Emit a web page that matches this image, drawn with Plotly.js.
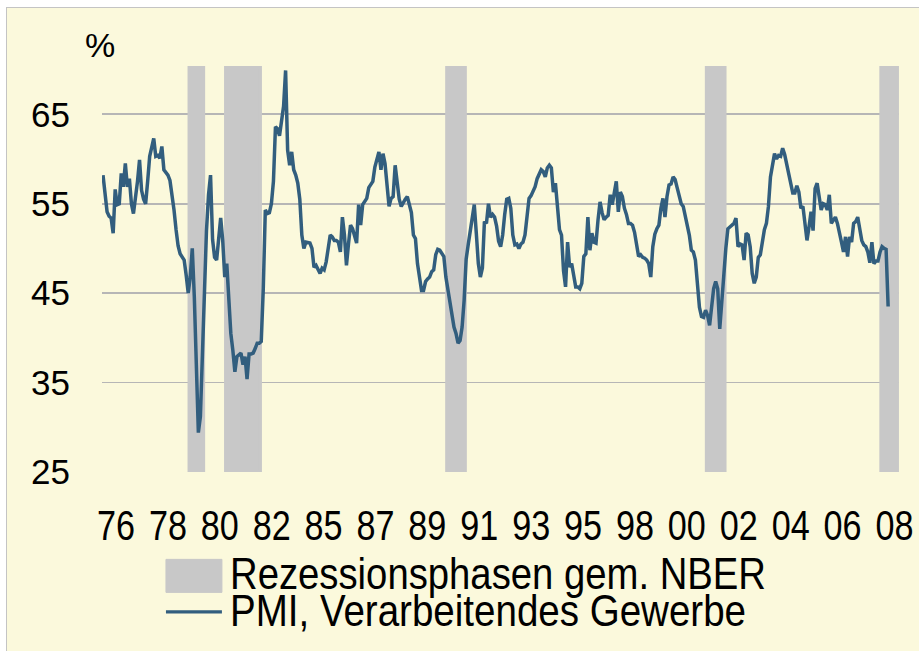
<!DOCTYPE html>
<html>
<head>
<meta charset="utf-8">
<script src="https://cdn.plot.ly/plotly-3.0.1.min.js"></script>
<style>
  html, body { margin:0; padding:0; background:#ffffff; width:919px; height:651px; overflow:hidden; }
  #chart { position:absolute; left:6px; top:7px; width:912px; height:643px;
           border-left:1px solid #C4C4C4; border-top:1px solid #C4C4C4; }
</style>
</head>
<body>
<div id="chart"></div>
<script>
// ---- data ----
const startYear = 1976;
const startMonth = 6; // June 1976
const pmi = [
  58.2, 56.0, 54.1, 53.6, 53.4, 51.7, 56.6,                         // 1976 Jun-Dec
  54.9, 55.0, 58.4, 56.9, 59.5, 56.9, 57.8, 55.0, 53.9, 55.4, 57.5, 59.9, // 1977
  56.5, 55.5, 55.0, 57.5, 60.3, 61.3, 62.3, 60.3, 60.4, 60.1, 61.4, 58.8, // 1978
  58.5, 58.2, 57.6, 56.0, 54.3, 52.1, 50.3, 49.4, 49.1, 48.7, 47.0, 45.0, // 1979
  46.8, 50.0, 44.6, 37.1, 29.4, 31.2, 37.9, 46.5, 52.0, 56.0, 58.2, 51.0, // 1980
  49.0, 48.7, 50.9, 53.4, 50.9, 46.8, 48.3, 43.5, 40.5, 38.6, 36.2, 37.9, // 1981
  38.1, 38.3, 37.0, 37.9, 35.4, 38.2, 38.2, 38.3, 38.8, 39.4, 39.4, 39.6, // 1982
  45.5, 54.3, 53.9, 54.0, 55.0, 57.5, 63.6, 63.4, 62.6, 64.6, 65.9, 69.9, // 1983
  61.0, 59.3, 60.8, 58.8, 58.2, 57.3, 55.5, 51.5, 50.0, 50.7, 50.6, 50.6, // 1984
  50.0, 47.9, 48.1, 47.6, 47.2, 47.8, 47.6, 48.5, 50.0, 51.5, 51.3, 50.9, // 1985
  50.9, 50.7, 49.6, 53.5, 51.5, 48.1, 50.5, 52.6, 52.2, 51.3, 50.6, 54.9, // 1986
  52.6, 54.9, 55.2, 55.6, 56.8, 57.2, 57.5, 59.1, 60.0, 60.8, 58.8, 60.6, // 1987
  59.5, 56.5, 54.7, 55.6, 55.8, 59.3, 57.5, 55.5, 54.7, 55.2, 55.5, 55.8, // 1988
  55.0, 54.0, 51.5, 51.1, 48.3, 46.5, 45.3, 45.3, 46.3, 46.6, 46.8, 47.4, // 1989
  47.6, 49.3, 49.9, 49.8, 49.5, 49.1, 46.8, 45.5, 43.8, 42.5, 41.2, 40.5, // 1990
  39.4, 39.7, 41.2, 44.2, 48.8, 50.4, 52.0, 53.5, 54.9, 51.7, 48.3, 46.8, // 1991
  47.8, 53.0, 52.8, 55.0, 53.5, 53.8, 53.5, 52.5, 50.8, 50.2, 51.5, 53.8, // 1992
  55.5, 55.6, 54.5, 51.5, 50.4, 50.5, 50.0, 50.5, 50.7, 51.5, 53.7, 55.6, // 1993
  55.9, 56.4, 56.9, 57.8, 58.4, 58.8, 58.6, 58.0, 59.0, 59.3, 59.0, 56.3, // 1994
  57.3, 54.3, 52.1, 51.5, 47.5, 45.7, 50.7, 47.9, 48.3, 47.0, 45.7, 45.7, // 1995
  45.5, 46.1, 49.1, 49.4, 53.5, 49.8, 51.7, 50.7, 50.6, 53.2, 55.2, 54.0, // 1996
  53.2, 53.5, 53.7, 56.0, 54.9, 56.2, 57.5, 54.1, 56.3, 55.8, 54.5, 53.8, // 1997
  52.8, 52.8, 52.6, 51.8, 50.5, 49.1, 49.3, 49.0, 48.9, 48.7, 48.3, 46.8, // 1998
  50.2, 51.6, 52.2, 52.6, 54.5, 55.6, 53.5, 55.8, 57.1, 57.2, 58.0, 57.7, // 1999
  56.8, 55.8, 55.0, 54.7, 53.7, 52.4, 51.5, 49.8, 49.6, 48.7, 46.5, 43.4, // 2000
  42.4, 42.3, 43.1, 42.5, 41.4, 43.4, 45.5, 46.3, 45.5, 41.0, 43.5, 47.0, // 2001
  50.0, 52.2, 52.4, 52.6, 52.8, 53.4, 50.2, 50.5, 50.4, 48.7, 51.7, 51.5, // 2002
  50.2, 47.2, 46.1, 46.8, 49.0, 49.3, 50.8, 52.1, 52.8, 54.7, 58.0, 59.5, // 2003
  60.6, 60.0, 60.4, 60.3, 61.2, 60.5, 59.5, 58.4, 57.1, 56.2, 56.2, 57.0, // 2004
  56.3, 54.5, 54.7, 52.8, 50.9, 52.4, 54.1, 52.0, 56.7, 57.3, 55.8, 54.3, // 2005
  55.0, 54.9, 54.3, 56.0, 52.8, 53.2, 53.5, 52.8, 51.5, 50.7, 49.6, 51.3, // 2006
  49.1, 51.3, 50.7, 52.8, 53.0, 53.5, 52.2, 50.9, 50.4, 50.2, 49.6, 48.4, // 2007
  50.7, 48.3, 48.6, 48.6, 49.6, 50.2, 50.0, 49.9, 43.5                    // 2008 Jan-Sep
];
// recession phases (first and last month of each shaded band)
const recStart = ['1980-01', '1981-07', '1990-08', '2001-04', '2008-06'];
const recEnd   = ['1980-07', '1982-11', '1991-04', '2001-12', '2009-01'];
const xTickLabels = ['76','78','80','82','85','87','89','91','93','95','98','00','02','04','06','08'];
const yTickValues = [25, 35, 45, 55, 65];
const seriesName = 'PMI, Verarbeitendes Gewerbe';
const recessionName = 'Rezessionsphasen gem. NBER';

// ---- helpers ----
function monthIndex(s) { const p = s.split('-').map(Number); return (p[0] - 1976) * 12 + (p[1] - 1); }
const t0 = (startYear - 1976) * 12 + (startMonth - 1);
const xs = pmi.map((_, i) => t0 + i);

const yMin = 25, yMax = 70.4, barTop = 70.2;
const recX = recStart.map((s, i) => (monthIndex(s) + monthIndex(recEnd[i])) / 2);
const recW = recStart.map((s, i) => monthIndex(recEnd[i]) - monthIndex(s) + 1);

const font = 'Liberation Sans, Arial, Helvetica, sans-serif';
const grey = '#C8C8C8', lineCol = '#325E7E', bg = '#FBF9DC';

const traces = [
  {
    type: 'bar', x: recX, width: recW, y: recX.map(() => barTop - yMin), base: recX.map(() => yMin),
    marker: { color: grey, line: { color: grey, width: 3.4 } },
    name: recessionName, showlegend: false, hoverinfo: 'skip'
  },
  {
    type: 'scatter', mode: 'lines', x: xs, y: pmi,
    line: { color: lineCol, width: 3.5, shape: 'linear' },
    name: seriesName, showlegend: false, hoverinfo: 'skip'
  }
];

const tickStart = 11.4, tickStep = 25.58;
const tickVals = xTickLabels.map((_, k) => tickStart + k * tickStep);

const W = 912, H = 643;
const mL = 95, mR = 19.5, mT = 58, mB = 179.3;
const pw = W - mL - mR, ph = H - mT - mB;
const px2x = px => (px - 7 - mL) / pw;
const py2y = py => ((H - mB + 8) - py) / ph;

const layout = {
  width: W, height: H,
  margin: { l: mL, r: mR, t: mT, b: mB, pad: 0 },
  paper_bgcolor: bg, plot_bgcolor: 'rgba(0,0,0,0)',
  showlegend: false, bargap: 0,
  xaxis: {
    range: [4.5, 4.5 + pw / 2.03], showgrid: false, zeroline: false, showline: false,
    tickmode: 'array', tickvals: tickVals, ticktext: xTickLabels, ticks: '',
    ticklabelstandoff: 25, ticklabeloverflow: 'allow',
    tickfont: { family: font, size: 42, color: '#000' }, fixedrange: true
  },
  yaxis: {
    range: [yMin, yMax], tickmode: 'array', tickvals: yTickValues, ticktext: yTickValues.map(String),
    showgrid: true, gridcolor: '#B6B6B6', gridwidth: 1.6, zeroline: false, showline: false, ticks: '',
    ticklabelstandoff: 31,
    tickfont: { family: font, size: 35, color: '#000' }, fixedrange: true
  },
  shapes: [
    { type: 'rect', xref: 'paper', yref: 'paper', x0: px2x(166), x1: px2x(222), y0: py2y(592), y1: py2y(559),
      fillcolor: grey, line: { color: grey, width: 1 } },
    { type: 'line', xref: 'paper', yref: 'paper', x0: px2x(166), x1: px2x(222), y0: py2y(611.5), y1: py2y(611.5),
      line: { color: lineCol, width: 3.3 } }
  ],
  annotations: [
    { text: '%', xref: 'paper', yref: 'paper', x: px2x(100), y: py2y(45), xanchor: 'center', yanchor: 'middle',
      showarrow: false, font: { family: font, size: 34, color: '#000' } },
    { text: recessionName, xref: 'paper', yref: 'paper', x: px2x(230), y: py2y(573.5), xanchor: 'left', yanchor: 'middle',
      showarrow: false, font: { family: font, size: 45, color: '#000' } },
    { text: seriesName, xref: 'paper', yref: 'paper', x: px2x(230), y: py2y(610.5), xanchor: 'left', yanchor: 'middle',
      showarrow: false, font: { family: font, size: 45, color: '#000' } }
  ]
};

// the reference uses a condensed face: squeeze the real text horizontally
function condense(gd) {
  gd.querySelectorAll('.xtick text').forEach(el => {
    el.setAttribute('textLength', 38);
    el.setAttribute('lengthAdjust', 'spacingAndGlyphs');
  });
  const targets = {};
  targets[recessionName] = { left: 230, len: 536 };
  targets[seriesName] = { left: 230, len: 516 };
  gd.querySelectorAll('.annotation-text').forEach(el => {
    const tg = targets[el.textContent];
    if (!tg) return;
    const r = el.getBoundingClientRect();
    const x0 = parseFloat(el.getAttribute('x')) || 0;
    const curCenter = r.left + r.width / 2;
    const newCenter = tg.left + tg.len / 2;
    el.setAttribute('x', x0 + (newCenter - curCenter));
    el.setAttribute('textLength', tg.len);
    el.setAttribute('lengthAdjust', 'spacingAndGlyphs');
  });
}

Plotly.newPlot('chart', traces, layout, { staticPlot: true, displayModeBar: false }).then(condense);
</script>
</body>
</html>
